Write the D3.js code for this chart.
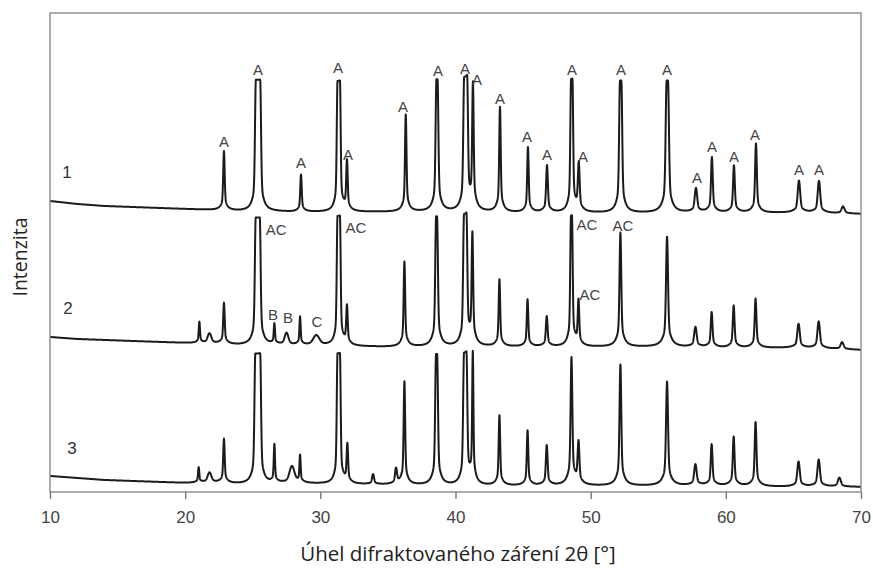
<!DOCTYPE html>
<html><head><meta charset="utf-8">
<script src="https://cdn.jsdelivr.net/npm/d3@7"></script>
<style>body{margin:0;background:#fff}svg{display:block}</style>
</head><body>
<svg id="chart" width="873" height="568"></svg>
<script>
// ---------- data ----------
const xTicks = [10, 20, 30, 40, 50, 60, 70];
const traceNames = ["1", "2", "3"];
const traceOffsets = [2700, 1350, 0];           // vertical stacking offsets (a.u.)
const traceNamePos = [[11.26, 3200], [11.33, 1840], [11.63, 440]]; // 2θ, intensity

// background level of each pattern at these angles
const baselineAngles = [10, 12, 14, 16, 18, 20, 22, 24, 26, 28, 30, 35, 40, 45, 50, 55, 60, 65, 70];
const baseline1 = [210, 180, 160, 150, 140, 130, 120, 110, 110, 100, 100, 100, 100, 90, 90, 90, 90, 90, 80];
const baseline2 = [200, 180, 170, 160, 150, 140, 130, 120, 120, 110, 110, 100, 100, 100, 100, 100, 90, 90, 70];
const baseline3 = [160, 140, 120, 110, 100, 90, 90, 80, 80, 80, 80, 70, 60, 60, 60, 60, 60, 50, 50];

// reflections: [2θ, height above background, half width (°), width of the cut-off top (°)]
const peaks1 = [
  [22.87, 590, 0.06, 0], [25.39, 1310, 0.07, 0.32], [28.57, 370, 0.06, 0], [31.36, 1300, 0.06, 0.18],
  [31.97, 490, 0.06, 0], [36.32, 970, 0.06, 0], [38.63, 1320, 0.07, 0.08], [40.75, 1320, 0.07, 0.22],
  [41.29, 1240, 0.06, 0], [43.29, 1050, 0.06, 0], [45.36, 650, 0.06, 0], [46.77, 470, 0.07, 0],
  [48.6, 1320, 0.06, 0.1], [49.12, 470, 0.07, 0], [52.22, 1320, 0.07, 0.1], [55.67, 1320, 0.08, 0.1],
  [57.79, 240, 0.1, 0], [58.97, 550, 0.07, 0], [60.6, 470, 0.07, 0], [62.23, 690, 0.07, 0],
  [65.41, 320, 0.1, 0], [66.89, 320, 0.1, 0], [68.67, 70, 0.12, 0]
];
const peaks2 = [
  [21.05, 210, 0.05, 0], [21.8, 100, 0.15, 0], [22.87, 410, 0.06, 0], [25.37, 1270, 0.07, 0.3],
  [26.6, 200, 0.05, 0], [27.5, 120, 0.15, 0], [28.5, 280, 0.05, 0], [29.7, 100, 0.25, 0],
  [31.36, 1290, 0.06, 0.18], [31.97, 380, 0.06, 0], [36.22, 850, 0.06, 0], [38.6, 1300, 0.07, 0.07],
  [40.72, 1300, 0.07, 0.18], [41.25, 1090, 0.06, 0], [43.25, 670, 0.06, 0], [45.33, 470, 0.06, 0],
  [46.75, 300, 0.07, 0], [48.58, 1300, 0.06, 0.07], [49.1, 440, 0.06, 0], [52.2, 1140, 0.07, 0],
  [55.65, 1100, 0.08, 0], [57.75, 200, 0.1, 0], [58.95, 350, 0.07, 0], [60.58, 420, 0.07, 0],
  [62.2, 490, 0.07, 0], [65.38, 240, 0.1, 0], [66.87, 270, 0.1, 0], [68.6, 70, 0.12, 0]
];
const peaks3 = [
  [21.0, 150, 0.05, 0], [21.8, 100, 0.15, 0], [22.87, 440, 0.06, 0], [25.37, 1300, 0.07, 0.36],
  [26.6, 380, 0.05, 0], [27.9, 170, 0.2, 0], [28.5, 270, 0.05, 0], [31.36, 1300, 0.06, 0.18],
  [32.0, 380, 0.06, 0], [33.9, 100, 0.08, 0], [35.6, 150, 0.08, 0], [36.22, 1030, 0.06, 0],
  [38.6, 1310, 0.07, 0.08], [40.72, 1310, 0.07, 0.18], [41.28, 1290, 0.05, 0], [43.25, 700, 0.06, 0],
  [45.33, 550, 0.06, 0], [46.75, 400, 0.07, 0], [48.58, 1270, 0.07, 0], [49.1, 410, 0.07, 0],
  [52.2, 1210, 0.07, 0], [55.65, 1040, 0.08, 0], [57.75, 210, 0.1, 0], [58.95, 410, 0.07, 0],
  [60.58, 490, 0.07, 0], [62.2, 640, 0.07, 0], [65.38, 250, 0.1, 0], [66.87, 270, 0.1, 0],
  [68.4, 90, 0.12, 0]
];

// phase labels: [text, 2θ, intensity]
const peakLabels = [
  ["A", 22.87, 3500], ["A", 25.39, 4220], ["A", 28.57, 3290], ["A", 31.31, 4240], ["A", 32.05, 3370],
  ["A", 36.12, 3850], ["A", 38.70, 4210], ["A", 40.70, 4230], ["A", 41.59, 4120], ["A", 43.29, 3930],
  ["A", 45.29, 3550], ["A", 46.77, 3370], ["A", 48.62, 4220], ["A", 49.43, 3350], ["A", 52.24, 4220],
  ["A", 55.65, 4220], ["A", 57.87, 3140], ["A", 58.97, 3450], ["A", 60.60, 3350], ["A", 62.16, 3570],
  ["A", 65.41, 3220], ["A", 66.89, 3220],
  ["AC", 26.74, 2620], ["AC", 32.64, 2640], ["AC", 49.73, 2670], ["AC", 52.39, 2660], ["AC", 49.95, 1970],
  ["B", 26.50, 1770], ["B", 27.61, 1740], ["C", 29.75, 1700]
];

const xTitle = "Úhel difraktovaného záření 2θ [°]";
const yTitle = "Intenzita";

// ---------- drawing ----------
const svg = d3.select("#chart");
const plot = {left: 50, top: 13, right: 861, bottom: 492};
const x = d3.scaleLinear().domain([10, 70]).range([plot.left, plot.right]);
const y = d3.scaleLinear().domain([0, 4790]).range([plot.bottom, plot.top]);

svg.append("defs").append("clipPath").attr("id", "clip")
  .append("rect").attr("x", plot.left).attr("y", plot.top)
  .attr("width", plot.right - plot.left).attr("height", plot.bottom - plot.top);

const bgScales = [baseline1, baseline2, baseline3].map(b =>
  d3.scaleLinear().domain(baselineAngles).range(b));
const peakSets = [peaks1, peaks2, peaks3];

function profile(t, peaks) {
  let s = 0;
  for (const [p, h, w, flat] of peaks) {
    const d = Math.max(0, Math.abs(t - p) - flat / 2);
    const u = d / w, v = d / (3.5 * w);
    s += h * (0.8 * Math.exp(-Math.LN2 * u * u) + 0.2 / (1 + v * v));
  }
  return s;
}

const angles = d3.range(10, 70.0001, 0.01);
const line = d3.line().x(d => x(d[0])).y(d => y(d[1]));

const g = svg.append("g").attr("clip-path", "url(#clip)");
peakSets.forEach((peaks, i) => {
  const pts = angles.map(t => [t, traceOffsets[i] + bgScales[i](t) + profile(t, peaks)]);
  g.append("path").datum(pts).attr("d", line)
    .attr("fill", "none").attr("stroke", "#1b1b1b")
    .attr("stroke-width", 2).attr("stroke-linejoin", "round");
});

// frame
svg.append("rect").attr("x", plot.left).attr("y", plot.top)
  .attr("width", plot.right - plot.left).attr("height", plot.bottom - plot.top)
  .attr("fill", "none").attr("stroke", "#8a8a8a").attr("stroke-width", 1.4);

// x axis
const ax = svg.append("g").attr("transform", `translate(0,${plot.bottom})`)
  .call(d3.axisBottom(x).tickValues(xTicks).tickSize(7).tickPadding(12).tickFormat(d3.format("d")));
ax.select(".domain").remove();
ax.selectAll(".tick line").attr("stroke", "#777").attr("stroke-width", 1.4);
ax.selectAll(".tick text").attr("fill", "#444")
  .style("font-family", "'Liberation Sans', Arial, sans-serif").style("font-size", "17px");

// trace numbers
svg.append("g").selectAll("text").data(traceNames).join("text")
  .attr("x", (d, i) => x(traceNamePos[i][0])).attr("y", (d, i) => y(traceNamePos[i][1]))
  .attr("dy", "0.36em").attr("text-anchor", "middle")
  .attr("fill", "#333").style("font-family", "'Liberation Sans', Arial, sans-serif")
  .style("font-size", "17px").text(d => d);

// phase labels
svg.append("g").selectAll("text").data(peakLabels).join("text")
  .attr("x", d => x(d[1])).attr("y", d => y(d[2]))
  .attr("dy", "0.36em").attr("text-anchor", "middle")
  .attr("fill", "#444").style("font-family", "'Liberation Sans', Arial, sans-serif")
  .style("font-size", "15px").text(d => d[0]);

// axis titles
svg.append("text").attr("x", 458).attr("y", 554).attr("dy", "0.36em")
  .attr("text-anchor", "middle").attr("fill", "#222")
  .style("font-family", "'Open Sans', sans-serif").style("font-size", "20.5px").text(xTitle);
svg.append("text").attr("transform", "translate(20,257) rotate(-90)").attr("dy", "0.36em")
  .attr("text-anchor", "middle").attr("fill", "#222")
  .style("font-family", "'Open Sans', sans-serif").style("font-size", "19.5px").text(yTitle);
</script>
</body></html>
